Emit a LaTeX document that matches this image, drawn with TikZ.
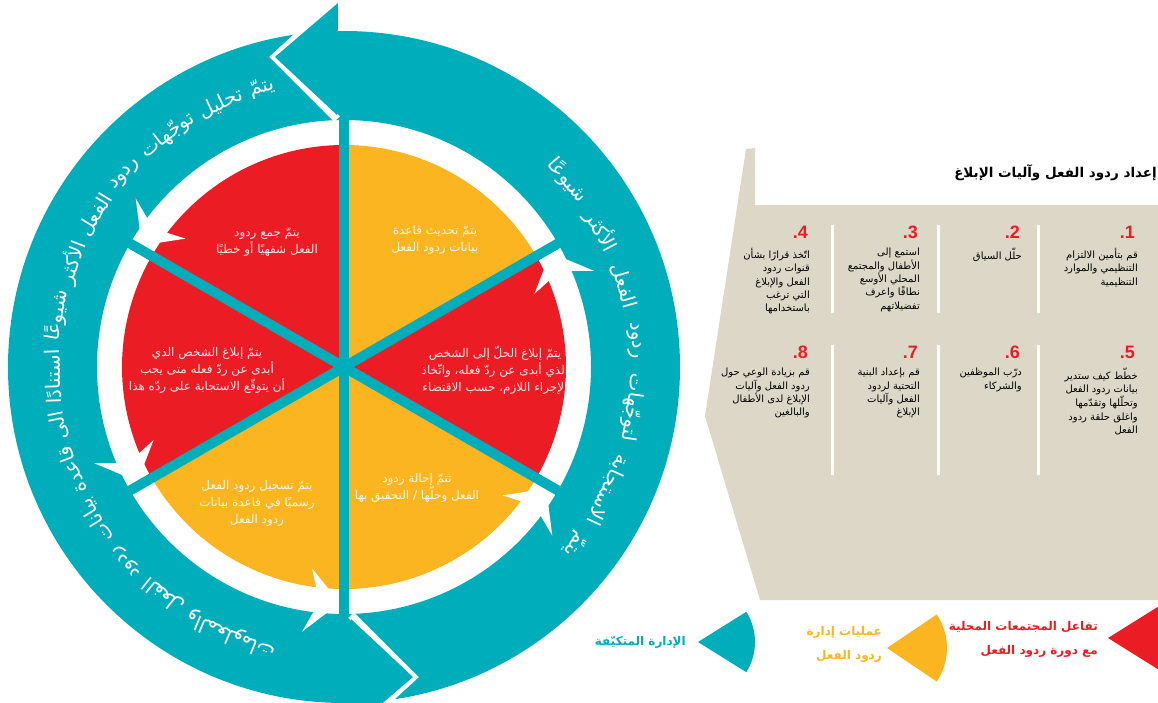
\documentclass[tikz,border=0pt]{standalone}
\usepackage{fontspec}
\newfontfamily\arabicfont[Script=Arabic]{DejaVu Sans}
\newfontfamily\latinfont{Liberation Sans}
\TeXXeTstate=1

\definecolor{ringteal}{HTML}{00ADBB}
\definecolor{piered}{HTML}{EC1C24}
\definecolor{pieyellow}{HTML}{FBB520}
\definecolor{panelbeige}{HTML}{DCD7C6}

\newcommand{\ARline}[1]{\beginR#1\endR}
\newcommand{\ringfont}{\arabicfont\fontsize{20}{22}\selectfont}
\newsavebox{\wordbox}

\tikzset{
  spoke/.style={ringteal,line width=10},
  sepline/.style={white,line width=3},
  ringword/.style={font=\ringfont,text=white,inner sep=0},
  pietext/.style={font=\arabicfont\fontsize{12}{17}\selectfont,text=white,text opacity=0.88,align=center},
  numtext/.style={font=\latinfont\bfseries\fontsize{18}{20}\selectfont,text=piered,anchor=east,inner sep=0},
  itemtext/.style={font=\arabicfont\fontsize{10}{13.3}\selectfont,align=right,anchor=north east,inner sep=0},
  legendtext/.style={font=\arabicfont\bfseries\fontsize{12}{24}\selectfont,align=right,anchor=east,inner sep=0}
}

% angle of each word along the ring, counterclockwise from the start
\newcommand{\ringangles}[4]{%
  \gdef#1{}%
  \xdef\curang{#2}%
  \foreach \w in {#4}{%
    \sbox{\wordbox}{\ringfont\beginR\w\endR}%
    \pgfmathsetmacro\midang{\curang+deg(\the\wd\wordbox/2/291)}%
    \pgfmathsetmacro\nextang{\midang+deg((\the\wd\wordbox/2+#3)/291)}%
    \xdef\curang{\nextang}%
    \ifx#1\empty\xdef#1{\midang/\w}\else\xdef#1{#1,\midang/\w}\fi
  }}

\begin{document}
\ringangles{\leftring}{104}{8}{يتمّ,تحليل,توجّهات,ردود,الفعل,الأكثر,شيوعًا,استنادًا,الى,قاعدة,بيانات,ردود,الفعل,والمعلومات}%
\ringangles{\rightring}{-40}{14}{يتمّ,الاستجابة,لتوجّهات,ردود,الفعل,الأكثر,شيوعًا}%
\begin{tikzpicture}[x=1pt,y=1pt]
\useasboundingbox (-344,-335) rectangle (814,367);

\fill[ringteal,even odd rule] (0,0) circle[radius=336] (0,0) circle[radius=247];

\foreach \a/\c in {90/piered,150/piered,210/pieyellow,270/pieyellow,330/piered,30/pieyellow}
  \fill[\c] (0,0) -- (\a:222) arc[start angle=\a, end angle=\a+60, radius=222] -- cycle;

\foreach \b in {150,210,270,330,390}
  \fill[white] (\b-9:204) -- (\b-1:236) -- (\b-9:268) -- (\b-6:236) -- cycle;

\foreach \a in {90,30,150}
  \draw[spoke] (\a:249) -- (\a+180:249);

\foreach \r in {0,180}{
  \begin{scope}[rotate=\r]
    \draw[white,line width=8,line join=miter] (-6,368) -- (-69,310) -- (-7,248);
    \fill[ringteal] (-6,364) -- (-69,310) -- (-7,252) -- cycle;
  \end{scope}}

\foreach \a/\w [count=\i] in \leftring
  \node[ringword,rotate=\a-90] (lw-\i) at (\a:291) {\beginR\w\endR};
\foreach \a/\w [count=\i] in \rightring
  \node[ringword,rotate=\a-90] (rw-\i) at (\a:291) {\beginR\w\endR};

\node[pietext] (collect) at (-77,125) {\ARline{يتمّ جمع ردود}\\\ARline{الفعل شفهيًا أو خطيًا}};
\node[pietext] (update) at (91,127) {\ARline{يتمّ تحديث قاعدة}\\\ARline{بيانات ردود الفعل}};
\node[pietext] (inform) at (-137,-3) {\ARline{يتمّ إبلاغ الشخص الذي}\\\ARline{أبدى عن ردّ فعله متى يجب}\\\ARline{أن يتوقّع الاستجابة على ردّه هذا}};
\node[pietext] (resolve) at (151,-3) {\ARline{يتمّ إبلاغ الحلّ إلى الشخص}\\\ARline{الذي أبدى عن ردّ فعله، واتّخاذ}\\\ARline{الإجراء اللازم، حسب الاقتضاء}};
\node[pietext] (record) at (-87,-136) {\ARline{يتمّ تسجيل ردود الفعل}\\\ARline{رسميًا في قاعدة بيانات}\\\ARline{ردود الفعل}};
\node[pietext] (refer) at (73,-121) {\ARline{تتمّ إحالة ردود}\\\ARline{الفعل وحلّها / التحقيق بها}};

\fill[panelbeige] (402,218) -- (411,219) -- (411,162) -- (814,162) -- (814,-233) -- (416,-233) -- (361,-49) -- cycle;
\node[font=\arabicfont\bfseries\fontsize{13.5}{16}\selectfont,anchor=east,inner sep=0] (title) at (813,194) {\ARline{إعداد ردود الفعل وآليات الإبلاغ}};

\foreach \x in {488,594,694}{
  \draw[sepline] (\x,142) -- (\x,54);
  \draw[sepline] (\x,22) -- (\x,-108);}

\node[numtext] (num1) at (791,135) {.1};
\node[numtext] (num2) at (676,135) {.2};
\node[numtext] (num3) at (574,135) {.3};
\node[numtext] (num4) at (464,135) {.4};
\node[numtext] (num5) at (791,15) {.5};
\node[numtext] (num6) at (676,15) {.6};
\node[numtext] (num7) at (574,15) {.7};
\node[numtext] (num8) at (464,15) {.8};

\node[itemtext] (item1) at (794,119) {\ARline{قم بتأمين الالتزام}\\\ARline{التنظيمي والموارد}\\\ARline{التنظيمية}};
\node[itemtext] (item2) at (678,119) {\ARline{حلّل السياق}};
\node[itemtext] (item3) at (576,119) {\ARline{استمع إلى}\\\ARline{الأطفال والمجتمع}\\\ARline{المحلي الأوسع}\\\ARline{نطاقًا واعرف}\\\ARline{تفضيلاتهم}};
\node[itemtext] (item4) at (466,119) {\ARline{اتّخذ قرارًا بشأن}\\\ARline{قنوات ردود}\\\ARline{الفعل والإبلاغ}\\\ARline{التي ترغب}\\\ARline{باستخدامها}};
\node[itemtext] (item5) at (794,-1) {\ARline{خطّط كيف ستدير}\\\ARline{بيانات ردود الفعل}\\\ARline{وتحلّلها وتقدّمها}\\\ARline{واغلق حلقة ردود}\\\ARline{الفعل}};
\node[itemtext] (item6) at (678,-1) {\ARline{درّب الموظفين}\\\ARline{والشركاء}};
\node[itemtext] (item7) at (576,-1) {\ARline{قم بإعداد البنية}\\\ARline{التحتية لردود}\\\ARline{الفعل وآليات}\\\ARline{الإبلاغ}};
\node[itemtext] (item8) at (466,-1) {\ARline{قم بزيادة الوعي حول}\\\ARline{ردود الفعل وآليات}\\\ARline{الإبلاغ لدى الأطفال}\\\ARline{والبالغين}};

\fill[ringteal] (354,-275) -- ++(-32:57) arc[start angle=-32, end angle=32, radius=57] -- cycle;
\node[legendtext,text=ringteal] (adaptive) at (342,-275) {\ARline{الإدارة المتكيّفة}};
\fill[pieyellow] (543,-281) -- ++(-34:60) arc[start angle=-34, end angle=34, radius=60] -- cycle;
\node[legendtext,text=pieyellow] (process) at (538,-277) {\ARline{عمليات إدارة}\\\ARline{ردود الفعل}};
\fill[piered] (764,-271) -- ++(-32:60) arc[start angle=-32, end angle=32, radius=60] -- cycle;
\node[legendtext,text=piered] (community) at (754,-272) {\ARline{تفاعل المجتمعات المحلية}\\\ARline{مع دورة ردود الفعل}};
\end{tikzpicture}
\end{document}
